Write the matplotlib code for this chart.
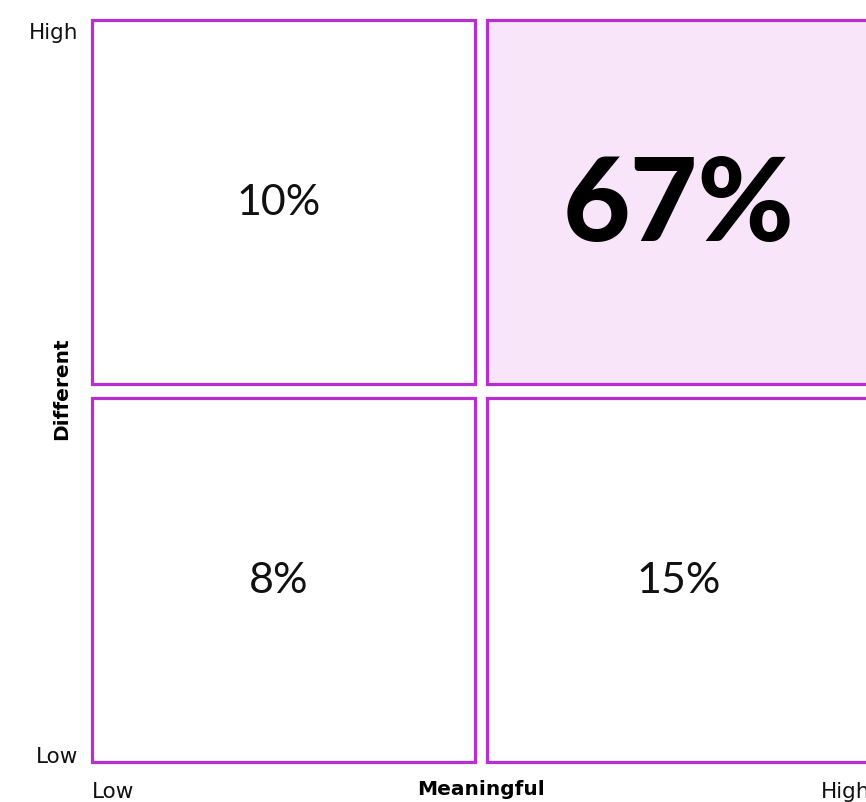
import numpy as np
import matplotlib
matplotlib.use('Agg')
import matplotlib.pyplot as plt
from matplotlib.patches import Rectangle
from matplotlib.transforms import ScaledTranslation

# quadrant data: (column, row) -> share
cols = [0, 1, 0, 1]          # 0 = low meaningful, 1 = high meaningful
rows = [1, 1, 0, 0]          # 0 = low different, 1 = high different
shares = [10, 67, 8, 15]
highlight = [False, True, False, False]

x_ticklabels = ['Low', 'High']
y_ticklabels = ['Low', 'High']
x_title = 'Meaningful'
y_title = 'Different'

edge_col = '#B92ED1'
fill_col = '#F8E5F9'
num_font = 'Lato'
lab_font = 'DejaVu Sans'

W, H = 866, 803
fig = plt.figure(figsize=(W / 100, H / 100), dpi=100)
# plot area in pixels: x 92..870 (runs past the right edge), y 21..763
left, right, top, bottom = 92, 870, 21, 763
ax = fig.add_axes([left / W, 1 - bottom / H, (right - left) / W, (bottom - top) / H])
ax.set_xlim(0, 2)
ax.set_ylim(0, 2)

gap_x = 0.031
gap_y = 0.036
for c, r, s, hl in zip(cols, rows, shares, highlight):
    x0 = c + (gap_x / 2 if c == 1 else 0)
    y0 = r + (gap_y / 2 if r == 1 else 0)
    w = 1 - gap_x / 2
    h = 1 - gap_y / 2
    ax.add_patch(Rectangle((x0, y0), w, h, facecolor=fill_col if hl else 'white',
                           edgecolor=edge_col, linewidth=2.3, clip_on=False))
    if hl:
        ax.text(x0 + w / 2, y0 + h / 2 - 0.01, f'{s}%', ha='center', va='center',
                fontsize=84, fontweight='black', family=num_font, color='black')
    else:
        dx = -0.012 if c == 0 else 0
        ax.text(x0 + w / 2 + dx, y0 + h / 2, f'{s}%', ha='center', va='center',
                fontsize=31, fontweight='normal', family=num_font, color='#111111')

for sp in ax.spines.values():
    sp.set_visible(False)
ax.set_xticks([0, 2])
ax.set_yticks([0, 2])
ax.set_xticklabels(x_ticklabels, family=lab_font, fontsize=15.5)
ax.set_yticklabels(y_ticklabels, family=lab_font, fontsize=15.5)
ax.tick_params(length=0, pad=14, labelcolor='#111111')
ax.tick_params(axis='y', pad=10)
xl = ax.get_xticklabels()
xl[0].set_ha('left')
xl[1].set_ha('right')
yl = ax.get_yticklabels()
yl[0].set_va('bottom')
yl[1].set_va('top')
yl[0].set_transform(yl[0].get_transform() + ScaledTranslation(0, -4 / 100, fig.dpi_scale_trans))
yl[1].set_transform(yl[1].get_transform() + ScaledTranslation(0, -2 / 100, fig.dpi_scale_trans))

ax.set_xlabel(x_title, family=lab_font, fontsize=14.5, fontweight='bold', va='center')
ax.set_ylabel(y_title, family=lab_font, fontsize=14.5, fontweight='bold', va='center')
ax.xaxis.set_label_coords(0.5, -27 / 742)
ax.yaxis.set_label_coords(-30 / 778, 0.505)

fig.savefig('out.png', dpi=100)
